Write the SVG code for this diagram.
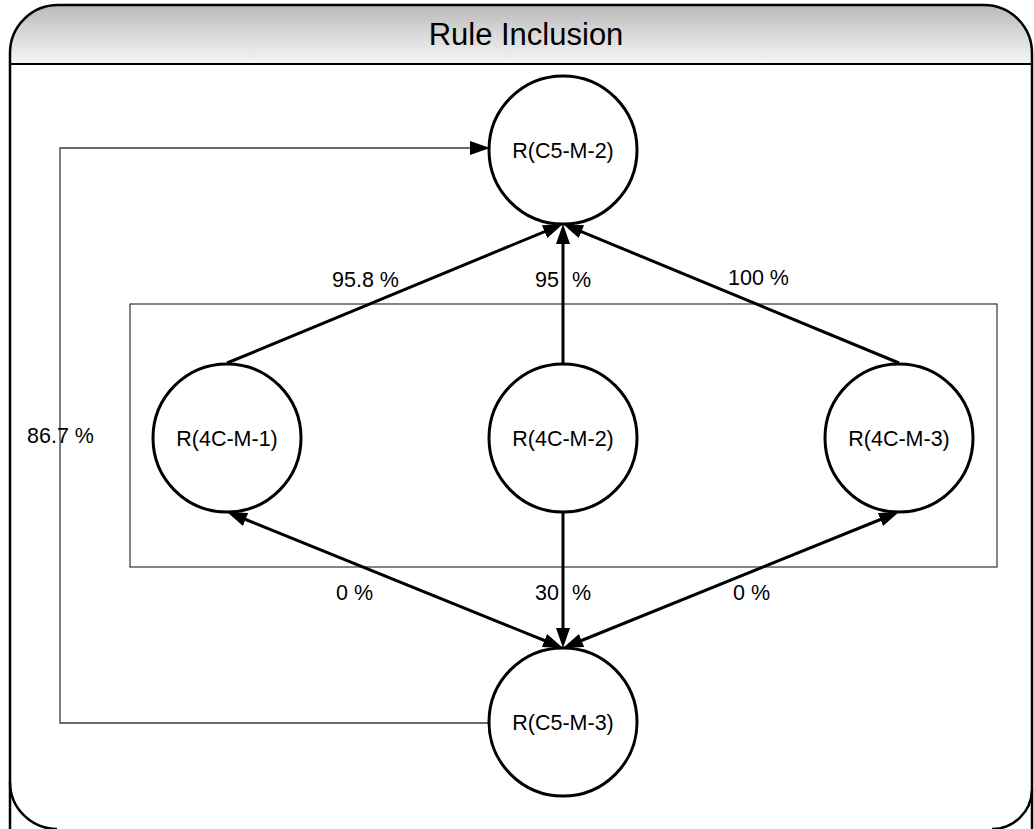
<svg xmlns="http://www.w3.org/2000/svg" width="1034" height="829" viewBox="0 0 1034 829">
  <style>
    .node circle { fill: #ffffff; stroke: #000000; stroke-width: 3; }
    .node text, .label { font-family: "Liberation Sans", Arial, sans-serif; font-size: 21.5px; fill: #000000; }
    .node text { text-anchor: middle; }
    .edge { fill: none; stroke: #000000; stroke-width: 3; }
    .loop { fill: none; stroke: #3a3a3a; stroke-width: 1.3; }
    .title { font-family: "Liberation Sans", Arial, sans-serif; font-size: 31px; fill: #000000; text-anchor: middle; }
  </style>
  <defs>
    <linearGradient id="band" x1="0" y1="0" x2="0" y2="1">
      <stop offset="0" stop-color="#b9b9b9"/>
      <stop offset="0.45" stop-color="#d6d6d6"/>
      <stop offset="1" stop-color="#f6f6f6"/>
    </linearGradient>
    <marker id="head" markerUnits="userSpaceOnUse" markerWidth="22" markerHeight="14" refX="10" refY="7" orient="auto-start-reverse" viewBox="0 0 22 14">
      <path d="M0,0 L20,7 L0,14 Z" fill="#000000"/>
    </marker>
  </defs>

  <!-- outer frame with shaded title band -->
  <g id="frame">
    <rect width="1034" height="829" fill="#ffffff"/>
    <path d="M10,64 L10,53 A48,48 0 0 1 58,5 L984,5 A48,48 0 0 1 1032,53 L1032,64 Z" fill="url(#band)"/>
    <path d="M10,829 L10,53 A48,48 0 0 1 58,5 L984,5 A48,48 0 0 1 1032,53 L1032,829" fill="none" stroke="#000000" stroke-width="2.5"/>
    <path d="M10,782 A47,47 0 0 0 57,829" fill="none" stroke="#000000" stroke-width="2.5"/>
    <path d="M1032,790 A40,40 0 0 1 992,829" fill="none" stroke="#000000" stroke-width="2.5"/>
    <line x1="10" y1="64" x2="1032" y2="64" stroke="#000000" stroke-width="2"/>
    <text class="title" x="526" y="45">Rule Inclusion</text>
  </g>

  <!-- grouping box around the 4C rules -->
  <rect id="group-4c" x="130" y="304" width="867" height="263" fill="none" stroke="#333333" stroke-width="1.2"/>

  <g id="connectors">
    <polyline class="loop" points="490,723 60,723 60,148 480,148" marker-end="url(#head)"/>
    <line class="edge" x1="227" y1="363" x2="553.76" y2="227.82" marker-end="url(#head)"/>
    <line class="edge" x1="563" y1="364" x2="563" y2="234" marker-end="url(#head)"/>
    <line class="edge" x1="899" y1="363" x2="572.24" y2="227.82" marker-end="url(#head)"/>
    <line class="edge" x1="236.3" y1="515.75" x2="553.7" y2="644.25" marker-start="url(#head)" marker-end="url(#head)"/>
    <line class="edge" x1="563" y1="512" x2="563" y2="638" marker-end="url(#head)"/>
    <line class="edge" x1="889.7" y1="515.75" x2="572.3" y2="644.25" marker-start="url(#head)" marker-end="url(#head)"/>
    <text class="label" x="27" y="443">86.7 %</text>
    <text class="label" x="332" y="287">95.8 %</text>
    <text class="label" x="535" y="287" word-spacing="7">95 %</text>
    <text class="label" x="728" y="285">100 %</text>
    <text class="label" x="336" y="600">0 %</text>
    <text class="label" x="535" y="600" word-spacing="7">30 %</text>
    <text class="label" x="733" y="600">0 %</text>
  </g>

  <g id="node-c5-m-2" class="node">
    <circle cx="563" cy="150" r="74"/>
    <text x="563" y="157.5">R(C5-M-2)</text>
  </g>
  <g id="node-4c-m-1" class="node">
    <circle cx="227" cy="438" r="74"/>
    <text x="227" y="445.5">R(4C-M-1)</text>
  </g>
  <g id="node-4c-m-2" class="node">
    <circle cx="563" cy="438" r="74"/>
    <text x="563" y="445.5">R(4C-M-2)</text>
  </g>
  <g id="node-4c-m-3" class="node">
    <circle cx="899" cy="438" r="74"/>
    <text x="899" y="445.5">R(4C-M-3)</text>
  </g>
  <g id="node-c5-m-3" class="node">
    <circle cx="563" cy="722" r="74"/>
    <text x="563" y="729.5">R(C5-M-3)</text>
  </g>
</svg>
